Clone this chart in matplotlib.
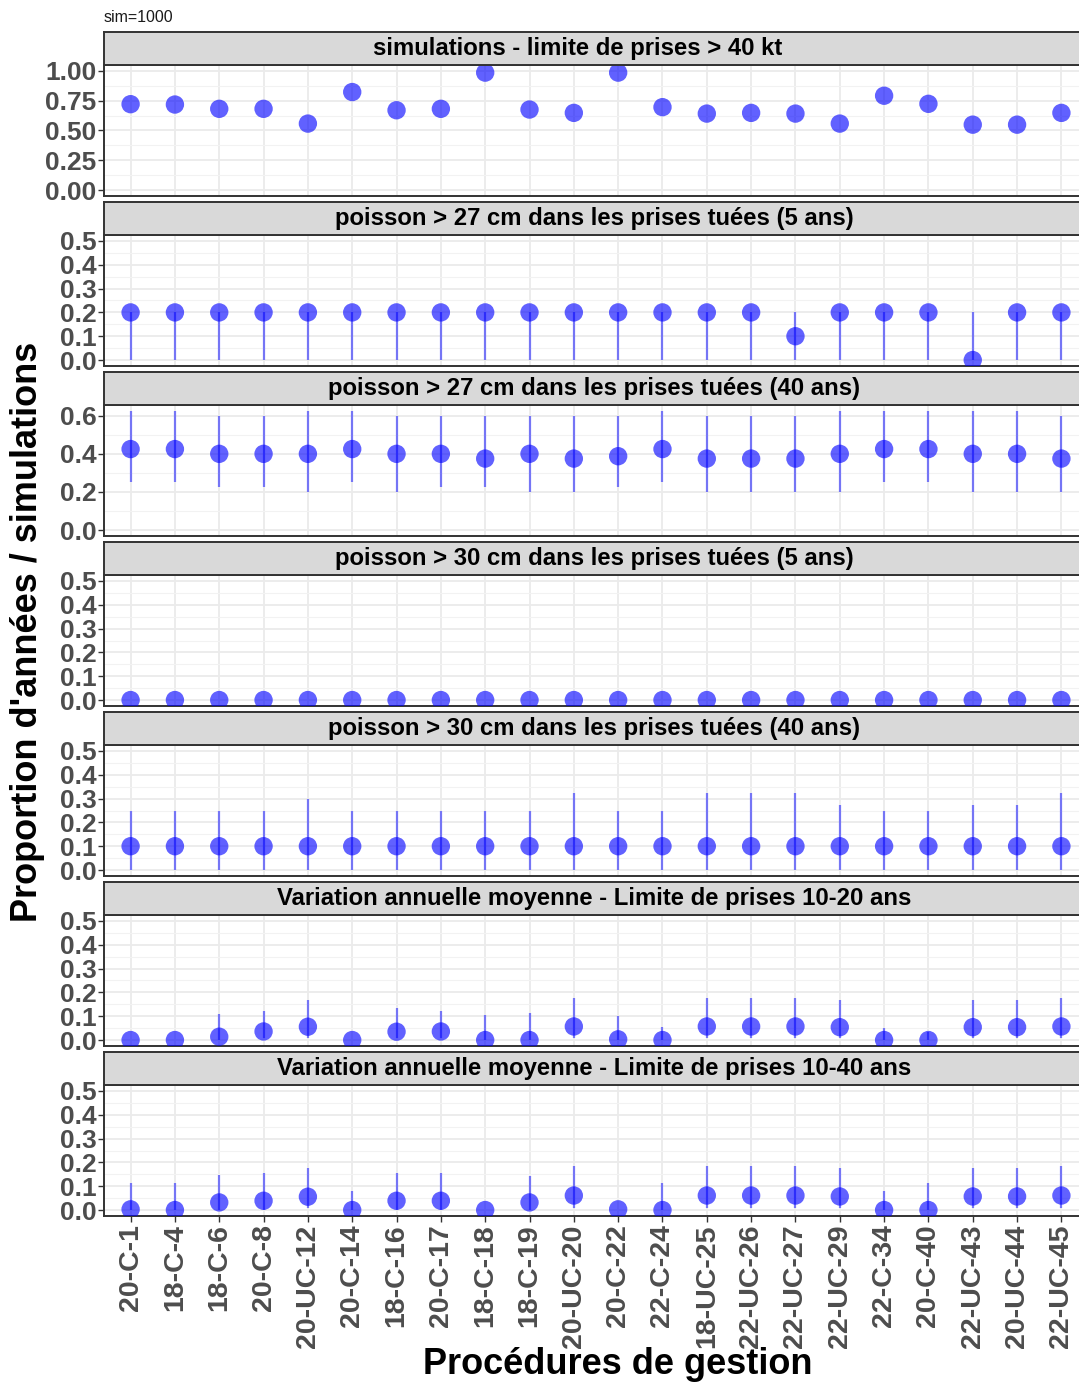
import matplotlib
matplotlib.use("Agg")
import matplotlib.pyplot as plt
import numpy as np

plt.rcParams['font.family'] = ['Liberation Sans', 'DejaVu Sans']

categories = ["20-C-1", "18-C-4", "18-C-6", "20-C-8", "20-UC-12", "20-C-14", "18-C-16",
              "20-C-17", "18-C-18", "18-C-19", "20-UC-20", "20-C-22", "22-C-24", "18-UC-25",
              "22-UC-26", "22-UC-27", "22-UC-29", "22-C-34", "20-C-40", "22-UC-43",
              "20-UC-44", "22-UC-45"]

titles = ["simulations - limite de prises > 40 kt",
          "poisson > 27 cm dans les prises tuées (5 ans)",
          "poisson > 27 cm dans les prises tuées (40 ans)",
          "poisson > 30 cm dans les prises tuées (5 ans)",
          "poisson > 30 cm dans les prises tuées (40 ans)",
          "Variation annuelle moyenne - Limite de prises 10-20 ans",
          "Variation annuelle moyenne - Limite de prises 10-40 ans"]

# panel 1: proportion of simulations
p1_val = [0.721, 0.718, 0.682, 0.682, 0.558, 0.823, 0.670, 0.682, 0.986, 0.676, 0.648,
          0.986, 0.696, 0.642, 0.648, 0.642, 0.558, 0.792, 0.724, 0.549, 0.549, 0.648]

# panel 2: > 27 cm (5 ans)
p2_val = [0.2, 0.2, 0.2, 0.2, 0.2, 0.2, 0.2, 0.2, 0.2, 0.2, 0.2,
          0.2, 0.2, 0.2, 0.2, 0.1, 0.2, 0.2, 0.2, 0.0, 0.2, 0.2]
p2_lo = [0.0] * 22
p2_hi = [0.2] * 22

# panel 3: > 27 cm (40 ans)
p3_val = [0.425, 0.425, 0.4, 0.4, 0.4, 0.425, 0.4, 0.4, 0.375, 0.4, 0.375,
          0.3875, 0.425, 0.375, 0.375, 0.375, 0.4, 0.425, 0.425, 0.4, 0.4, 0.375]
p3_lo = [0.25, 0.25, 0.225, 0.225, 0.2, 0.25, 0.2, 0.225, 0.225, 0.2, 0.2,
         0.225, 0.25, 0.2, 0.2, 0.2, 0.2, 0.25, 0.25, 0.2, 0.2, 0.2]
p3_hi = [0.625, 0.625, 0.6, 0.6, 0.625, 0.625, 0.6, 0.6, 0.6, 0.6, 0.6,
         0.6, 0.625, 0.6, 0.6, 0.6, 0.625, 0.625, 0.625, 0.625, 0.625, 0.6]

# panel 4: > 30 cm (5 ans)
p4_val = [0.0] * 22
p4_lo = [0.0] * 22
p4_hi = [0.0] * 22

# panel 5: > 30 cm (40 ans)
p5_val = [0.1] * 22
p5_lo = [0.0] * 22
p5_hi = [0.25, 0.25, 0.25, 0.25, 0.3, 0.25, 0.25, 0.25, 0.25, 0.25, 0.325,
         0.25, 0.25, 0.325, 0.325, 0.325, 0.275, 0.25, 0.25, 0.275, 0.275, 0.325]

# panel 6: variation annuelle 10-20 ans
p6_val = [0.0, 0.0, 0.014, 0.036, 0.056, 0.0, 0.035, 0.036, 0.0, 0.0, 0.057,
          0.003, 0.0, 0.057, 0.057, 0.057, 0.054, 0.0, 0.0, 0.054, 0.054, 0.057]
p6_lo = [0.0, 0.0, 0.0, 0.007, 0.007, 0.0, 0.007, 0.007, 0.0, 0.0, 0.007,
         0.0, 0.0, 0.007, 0.007, 0.007, 0.007, 0.0, 0.0, 0.007, 0.007, 0.007]
p6_hi = [0.0, 0.0, 0.11, 0.122, 0.169, 0.0, 0.133, 0.12, 0.105, 0.112, 0.176,
         0.102, 0.053, 0.175, 0.175, 0.175, 0.169, 0.052, 0.032, 0.169, 0.169, 0.175]

# panel 7: variation annuelle 10-40 ans
p7_val = [0.003, 0.0, 0.032, 0.039, 0.056, 0.0, 0.039, 0.039, 0.0, 0.032, 0.061,
          0.003, 0.0, 0.061, 0.061, 0.061, 0.057, 0.0, 0.0, 0.057, 0.057, 0.061]
p7_lo = [0.0, 0.0, 0.0, 0.0, 0.007, 0.0, 0.0, 0.0, 0.0, 0.0, 0.007,
         0.0, 0.0, 0.007, 0.007, 0.007, 0.007, 0.0, 0.0, 0.007, 0.007, 0.007]
p7_hi = [0.112, 0.112, 0.147, 0.156, 0.176, 0.08, 0.156, 0.154, 0.0, 0.145, 0.183,
         0.0, 0.112, 0.183, 0.183, 0.183, 0.175, 0.081, 0.112, 0.175, 0.175, 0.183]

panels = [
    (p1_val, None, None, [0, 0.25, 0.5, 0.75, 1.0], "{:.2f}", (0.0, 1.0)),
    (p2_val, p2_lo, p2_hi, [0, 0.1, 0.2, 0.3, 0.4, 0.5], "{:.1f}", (0.0, 0.5)),
    (p3_val, p3_lo, p3_hi, [0, 0.2, 0.4, 0.6], "{:.1f}", (0.0, 0.625)),
    (p4_val, p4_lo, p4_hi, [0, 0.1, 0.2, 0.3, 0.4, 0.5], "{:.1f}", (0.0, 0.5)),
    (p5_val, p5_lo, p5_hi, [0, 0.1, 0.2, 0.3, 0.4, 0.5], "{:.1f}", (0.0, 0.5)),
    (p6_val, p6_lo, p6_hi, [0, 0.1, 0.2, 0.3, 0.4, 0.5], "{:.1f}", (0.0, 0.5)),
    (p7_val, p7_lo, p7_hi, [0, 0.1, 0.2, 0.3, 0.4, 0.5], "{:.1f}", (0.0, 0.5)),
]

W, H = 1079, 1382
fig = plt.figure(figsize=(W / 100, H / 100), dpi=100)

left_px, right_px = 104, 1088
strip_h, plot_h, period, top0 = 33, 131, 170, 32
x = np.arange(len(categories))
pt_color = (0.0, 0.0, 1.0, 0.62)
ln_color = (0.0, 0.0, 1.0, 0.5)
border = "#333333"
tickgray = "#4D4D4D"
strip_text_x = [578, 594, 594, 594, 594, 594, 594]

for k, (val, lo, hi, ticks, fmt, rng) in enumerate(panels):
    st_top = top0 + period * k
    pl_top = st_top + strip_h
    pl_bot = pl_top + plot_h
    ax = fig.add_axes([left_px / W, 1 - pl_bot / H, (right_px - left_px) / W, plot_h / H])
    sax = fig.add_axes([left_px / W, 1 - pl_top / H, (right_px - left_px) / W, strip_h / H])
    sax.set_facecolor("#D9D9D9")
    sax.set_xticks([]); sax.set_yticks([])
    for s in sax.spines.values():
        s.set_color(border); s.set_linewidth(1.4)
    fx = (strip_text_x[k] - left_px) / (right_px - left_px)
    sax.text(fx, 0.5, titles[k], transform=sax.transAxes, ha="center", va="center",
             fontsize=17.2, fontweight="bold", color="black")

    span = rng[1] - rng[0]
    ax.set_ylim(rng[0] - 0.05 * span, rng[1] + 0.05 * span)
    ax.set_xlim(-0.6, len(categories) - 1 + 0.6)
    ax.set_facecolor("white")
    ax.set_yticks(ticks)
    ax.set_yticklabels([fmt.format(t) for t in ticks])
    minor = [(ticks[i] + ticks[i + 1]) / 2 for i in range(len(ticks) - 1)]
    ax.set_yticks(minor, minor=True)
    ax.set_xticks(x)
    ax.grid(True, which="major", color="#EBEBEB", linewidth=1.3, zorder=0)
    ax.grid(True, which="minor", axis="y", color="#F2F2F2", linewidth=0.8, zorder=0)
    ax.set_axisbelow(True)
    ax.tick_params(axis="y", which="major", length=4, width=1.0, color=border,
                   labelsize=19, labelcolor=tickgray, pad=1.5)
    ax.tick_params(axis="y", which="minor", length=0)
    for lab in ax.get_yticklabels():
        lab.set_fontweight("bold")
    if k == len(panels) - 1:
        ax.set_xticklabels(categories, rotation=90, fontsize=20.5, fontweight="bold",
                           color=tickgray, ha="center", va="top")
        ax.tick_params(axis="x", length=4, width=1.0, color=border, pad=2)
    else:
        ax.tick_params(axis="x", length=0, labelbottom=False)
    for s in ax.spines.values():
        s.set_color(border); s.set_linewidth(1.4)

    if lo is not None:
        ax.vlines(x, lo, hi, color=ln_color, linewidth=1.6, zorder=2)
    ax.scatter(x, val, s=175, color=pt_color, edgecolors="none", zorder=3)

fig.text(104 / W, 1 - 18 / H, "sim=1000", ha="left", va="center", fontsize=11.5, color="#1A1A1A")
fig.text(28 / W, 1 - 632 / H, "Proportion d'années / simulations", rotation=90,
         ha="center", va="center", fontsize=26, fontweight="bold", color="black")
fig.text(618 / W, 1 - 1365 / H, "Procédures de gestion", ha="center", va="center",
         fontsize=26, fontweight="bold", color="black")

fig.savefig("out.png", dpi=100)
